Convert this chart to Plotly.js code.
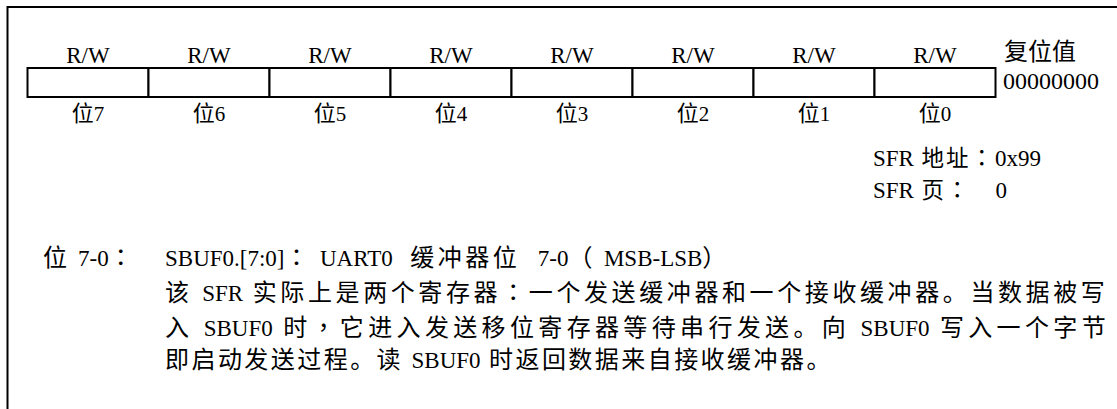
<!DOCTYPE html>
<html>
<head>
<meta charset="utf-8">
<script src="https://cdn.plot.ly/plotly-3.0.1.min.js"></script>
<style>html,body{margin:0;padding:0;background:#ffffff;}</style>
</head>
<body>
<div id="chart" style="width:1117px;height:409px;"></div>
<script>
// ---- data ----
const bitNames = ["位7", "位6", "位5", "位4", "位3", "位2", "位1", "位0"];
const access = ["R/W", "R/W", "R/W", "R/W", "R/W", "R/W", "R/W", "R/W"];
const cellSpan = [1, 1, 1, 1, 1, 1, 1, 1];
const resetLabel = "复位值";
const resetValue = "00000000";
const sfrAddressText = "SFR 地址：0x99";
const sfrPageLabel = "SFR 页";
const sfrPageSep = "：";
const sfrPageValue = "0";
const fieldLabel = "位 7-0：";
const descLines = [
  "SBUF0.[7:0]：UART0 缓冲器位 7-0（MSB-LSB）",
  "该 SFR 实际上是两个寄存器：一个发送缓冲器和一个接收缓冲器。当数据被写",
  "入 SBUF0 时，它进入发送移位寄存器等待串行发送。向 SBUF0 写入一个字节",
  "即启动发送过程。读 SBUF0 时返回数据来自接收缓冲器。"
];

// ---- style / layout helpers ----
const W = 1117, H = 409;
const FONT = "Liberation Serif, 'Noto Sans CJK SC', serif";
const lineSpacing = [3.5, 3.6, 4.35, 2.45];
const lineGap = [8, 0, 0, 0];
const CJK = /([ \u3000-\u303f\u4e00-\u9fff\uff00-\uffef]+)/g;
const CENTERED = /^[：，（）]$/;
function spaced(s, size, ls, gap) {
  gap = gap || 0;
  return s.replace(CJK, run => run.split(/([：，（） ])/).filter(p => p).map(p => {
    const punct = CENTERED.test(p);
    const fam = punct ? "font-family:'Noto Sans CJK TC';" : "";
    const extra = (punct || p === " ") ? gap : 0;
    return '<span style="' + fam + 'font-size:' + size + 'px;letter-spacing:' + (ls + extra) + 'px">' + p + '</span>';
  }).join(''));
}
const wrapSize = (s, size) => '<span style="font-size:' + size + 'px">' + s + '</span>';
const px = v => v / W;
const py = v => 1 - v / H;

// x: one category per 121px, first cell left edge at 27.5px
const cellW = 121, x0 = -0.5 - 27.5 / cellW;
// y: one unit = 29px, y=0 at 97px
const unitH = 29, yTop = 68 / unitH + 1;

const traces = [
  {
    type: "bar", x: bitNames, y: cellSpan, base: 0, width: 1,
    marker: {color: "#ffffff", line: {color: "#000000", width: 2}},
    hoverinfo: "skip", cliponaxis: false
  },
  {
    type: "scatter", mode: "text", x: bitNames, y: access.map(() => 1.38),
    text: access, textposition: "middle center",
    textfont: {family: FONT, size: 23, color: "#000"},
    hoverinfo: "skip", cliponaxis: false
  },
  {
    type: "scatter", mode: "text", x: bitNames, y: bitNames.map(() => -0.64),
    text: bitNames.map(b => spaced(b, 22, 0)), textposition: "middle center",
    textfont: {family: FONT, size: 21, color: "#000"},
    hoverinfo: "skip", cliponaxis: false
  }
];

const ann = (text, x, y, size, csize, ls, gap) => ({
  text: spaced(text, csize, ls, gap), xref: "paper", yref: "paper", x: px(x), y: py(y),
  xanchor: "left", yanchor: "middle", showarrow: false,
  font: {family: FONT, size: size, color: "#000"}
});

// SFR address / page block: two lines in one text
const sfrBlock =
  wrapSize(spaced(sfrAddressText, 22.5, 2), 23) + "<br>" +
  wrapSize(spaced(sfrPageLabel, 22.5, 2) +
    '<span style="font-family:\'Noto Sans CJK TC\';font-size:22.5px;letter-spacing:27px">' + sfrPageSep + '</span>' +
    sfrPageValue, 23);

const annotations = [
  ann(resetLabel, 1002, 52, 24, 24, 0),
  ann(resetValue, 1001, 81, 24, 24, 0),
  {
    text: sfrBlock, xref: "paper", yref: "paper", x: px(871), y: py(172),
    xanchor: "left", yanchor: "middle", align: "left", showarrow: false,
    font: {family: FONT, size: 24.8, color: "#000"}
  },
  ann(fieldLabel, 41, 255, 23, 24, 2.5)
];
descLines.forEach((t, i) => annotations.push(ann(t, 163, 255 + 35 * i, 23, 24, lineSpacing[i], lineGap[i])));

const layout = {
  width: W, height: H,
  margin: {l: 0, r: 0, t: 0, b: 0, pad: 0},
  paper_bgcolor: "#ffffff", plot_bgcolor: "#ffffff",
  showlegend: false, bargap: 0,
  xaxis: {type: "category", range: [x0, x0 + W / cellW], visible: false, fixedrange: true},
  yaxis: {range: [yTop - H / unitH, yTop], visible: false, fixedrange: true},
  shapes: [
    {type: "line", xref: "paper", yref: "paper", x0: px(7), x1: 1, y0: py(7), y1: py(7), line: {color: "#000", width: 2}},
    {type: "line", xref: "paper", yref: "paper", x0: px(7.5), x1: px(7.5), y0: py(6), y1: 0, line: {color: "#000", width: 2}}
  ],
  annotations: annotations
};

Plotly.newPlot("chart", traces, layout, {staticPlot: true, displayModeBar: false});
</script>
</body>
</html>
